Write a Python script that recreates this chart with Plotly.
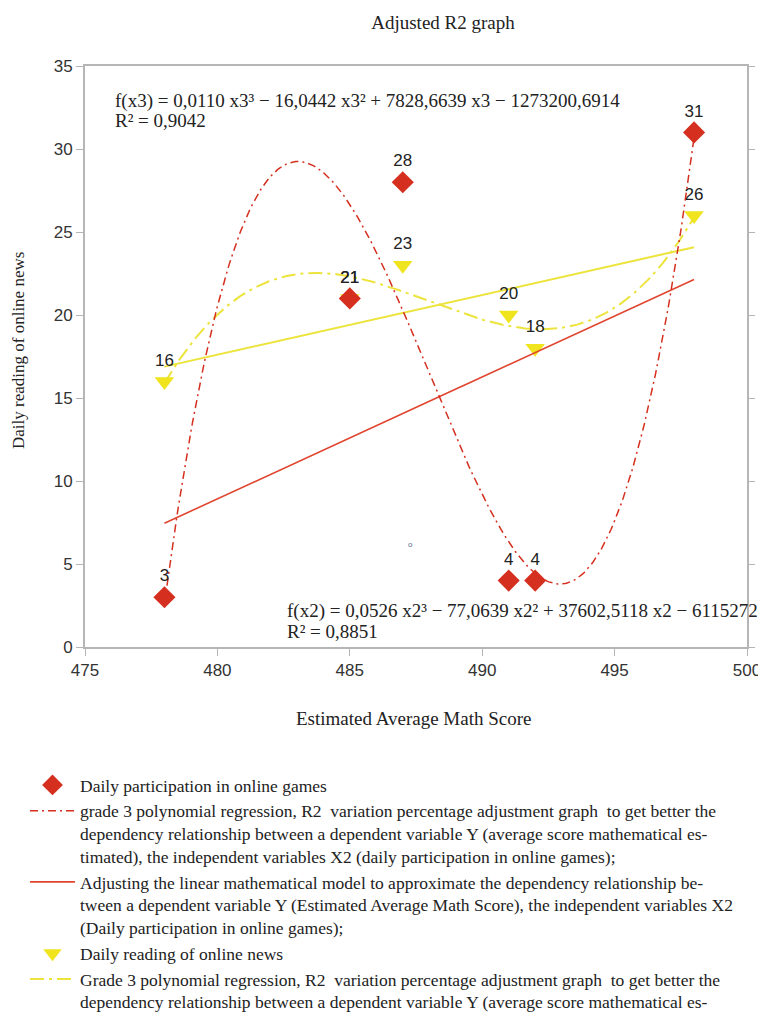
import numpy as np
import plotly.graph_objects as go

# ---- data ----
math_score = [478, 485, 487, 491, 492, 498]
games = [3, 21, 28, 4, 4, 31]
news = [16, 21, 23, 20, 18, 26]
x_ticks = [475, 480, 485, 490, 495, 500]
y_ticks = [0, 5, 10, 15, 20, 25, 30, 35]

name_games = "Daily participation in online games"
name_games_poly = ("grade 3 polynomial regression, R2  variation percentage adjustment graph  to get better the<br>"
                   "dependency relationship between a dependent variable Y (average score mathematical es-<br>"
                   "timated), the independent variables X2 (daily participation in online games);")
name_games_lin = ("Adjusting the linear mathematical model to approximate the dependency relationship be-<br>"
                  "tween a dependent variable Y (Estimated Average Math Score), the independent variables X2<br>"
                  "(Daily participation in online games);")
name_news = "Daily reading of online news"
name_news_poly = ("Grade 3 polynomial regression, R2  variation percentage adjustment graph  to get better the<br>"
                  "dependency relationship between a dependent variable Y (average score mathematical es-<br>"
                  "timated), the independent variables  X3 (Daily reading of online news);")
name_news_lin = "Linear regression, X3 (Daily reading of online news)"

eq_top_1 = "f(x3) = 0,0110 x3³ − 16,0442 x3² + 7828,6639 x3 − 1273200,6914"
eq_top_2 = "R² = 0,9042"
eq_bot_1 = "f(x2) = 0,0526 x2³ − 77,0639 x2² + 37602,5118 x2 − 6115272,"
eq_bot_2 = "R² = 0,8851"

RED = "#d5301f"
YEL = "#efe41e"
YEL_LINE = "#ece43c"
SERIF = "Liberation Serif, Times New Roman, serif"
SANS = "Liberation Sans, Arial, sans-serif"
TXT = "#222"

# regression fits computed from the data
xs = np.linspace(min(math_score), max(math_score), 300)
p_games3 = np.polyfit(math_score, games, 3)
p_games1 = np.polyfit(math_score, games, 1)
p_news3 = np.polyfit(math_score, news, 3)
p_news1 = np.polyfit(math_score, news, 1)

fig = go.Figure()

# news series drawn first (beneath), legend order kept via legendrank
fig.add_trace(go.Scatter(
    x=xs, y=np.polyval(p_news1, xs), mode="lines", name=name_news_lin,
    line=dict(color=YEL_LINE, width=2), showlegend=False))
fig.add_trace(go.Scatter(
    x=xs, y=np.polyval(p_news3, xs), mode="lines", name=name_news_poly, legendrank=5,
    line=dict(color=YEL_LINE, width=2, dash="14px,5px,3px,5px")))
fig.add_trace(go.Scatter(
    x=math_score, y=news, mode="markers+text", name=name_news, legendrank=4,
    marker=dict(symbol="triangle-down", size=17, color=YEL),
    text=[str(v) for v in news], textposition="top center",
    textfont=dict(family=SANS, size=17, color=TXT), cliponaxis=False))
fig.add_trace(go.Scatter(
    x=xs, y=np.polyval(p_games1, xs), mode="lines", name=name_games_lin, legendrank=3,
    line=dict(color="#e0452f", width=1.6)))
fig.add_trace(go.Scatter(
    x=xs, y=np.polyval(p_games3, xs), mode="lines", name=name_games_poly, legendrank=2,
    line=dict(color=RED, width=1.5, dash="8px,4px,2px,4px")))
fig.add_trace(go.Scatter(
    x=math_score, y=games, mode="markers+text", name=name_games, legendrank=1,
    marker=dict(symbol="diamond", size=17, color=RED),
    text=[str(v) for v in games], textposition="top center",
    textfont=dict(family=SANS, size=17, color=TXT), cliponaxis=False))
# secondary (right) axis carrier
fig.add_trace(go.Scatter(x=[], y=[], yaxis="y2", showlegend=False, hoverinfo="skip"))

W, H = 758, 1011  # page has 8px body margin
axis_line = "#b5b5b5"
fig.update_layout(
    width=W, height=H,
    margin=dict(l=77, r=19, t=58, b=372, autoexpand=False),
    paper_bgcolor="white", plot_bgcolor="white",
    title=dict(text="Adjusted R2 graph", x=435 / W, xanchor="center",
               y=1 - 14 / H, yanchor="middle", xref="container", yref="container",
               font=dict(family=SERIF, size=19, color=TXT)),
    xaxis=dict(range=[475, 500], tickvals=x_ticks, showgrid=False, zeroline=False,
               showline=True, linecolor=axis_line, linewidth=2, mirror=True,
               ticks="outside", ticklen=7, tickcolor=axis_line, tickwidth=1,
               tickfont=dict(family=SANS, size=17, color="#333")),
    yaxis=dict(range=[0, 35], tickvals=y_ticks, showgrid=False, zeroline=False,
               showline=True, linecolor=axis_line, linewidth=2,
               ticks="outside", ticklen=7, tickcolor=axis_line, tickwidth=1,
               tickfont=dict(family=SANS, size=17, color="#333")),
    yaxis2=dict(range=[0, 35], tickvals=y_ticks, overlaying="y", side="right",
                showgrid=False, zeroline=False, showline=True, linecolor=axis_line,
                linewidth=2, ticks="outside", ticklen=6, tickcolor=axis_line,
                tickfont=dict(family=SANS, size=17, color="#333")),
    legend=dict(xref="container", yref="container", x=17 / W, y=1 - 759 / H,
                xanchor="left", yanchor="top", bgcolor="rgba(0,0,0,0)",
                font=dict(family=SERIF, size=17.5, color=TXT),
                tracegroupgap=0, itemwidth=45, valign="top", traceorder="normal"),
    showlegend=True,
)


def px_x(px):
    return (px - 85) / 662


def px_y(py):
    return 1 - (py - 66) / 581


def note(text, x, y, size=19, **kw):
    fig.add_annotation(text=text, xref="paper", yref="paper", x=x, y=y,
                       showarrow=False, font=dict(family=SERIF, size=size, color=TXT), **kw)


note(eq_top_1, px_x(113), px_y(101), xanchor="left", yanchor="middle")
note(eq_top_2, px_x(113), px_y(120), xanchor="left", yanchor="middle")
note(eq_bot_1, px_x(285), px_y(611), xanchor="left", yanchor="middle")
note(eq_bot_2, px_x(285), px_y(631), xanchor="left", yanchor="middle")
note("Estimated Average Math Score", px_x(414), px_y(718), xanchor="center", yanchor="middle")
note("Daily reading of online news", px_x(18), px_y(351), size=17,
     xanchor="center", yanchor="middle", textangle=-90)
fig.add_annotation(text="o", x=487.3, y=6.2, showarrow=False,
                   font=dict(family=SANS, size=8, color="#5a6b8c"))

fig.write_html("out.html")
